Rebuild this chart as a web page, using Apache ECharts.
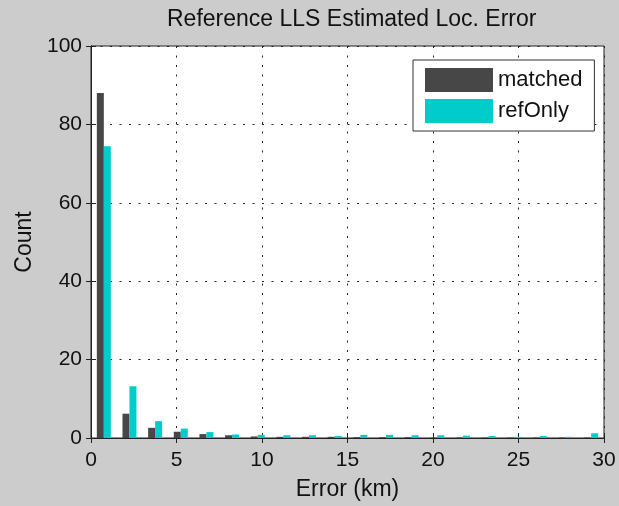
<!DOCTYPE html>
<html>
<head>
<meta charset="utf-8">
<script src="https://cdn.jsdelivr.net/npm/echarts@6/dist/echarts.min.js"></script>
<style>
html,body{margin:0;padding:0;background:#cccccc;}
#chart{width:619px;height:506px;}
</style>
</head>
<body>
<div id="chart"></div>
<script>
var binCenters = [0.75, 2.25, 3.75, 5.25, 6.75, 8.25, 9.75, 11.25, 12.75, 14.25, 15.75, 17.25, 18.75, 20.25, 21.75, 23.25, 24.75, 26.25, 27.75, 29.25];
var matched = [88.0, 6.2, 2.6, 1.6, 1.0, 0.7, 0.4, 0.3, 0.3, 0.3, 0.2, 0.2, 0.2, 0.1, 0.1, 0.1, 0.1, 0.1, 0.1, 0.1];
var refOnly = [74.4, 13.2, 4.3, 2.4, 1.5, 0.9, 0.8, 0.7, 0.7, 0.5, 0.8, 0.8, 0.7, 0.7, 0.6, 0.5, 0.3, 0.5, 0.3, 1.2];
var seriesNames = ['matched', 'refOnly'];
var seriesColors = ['#474747', '#00cccc'];
var titleText = 'Reference LLS Estimated Loc. Error';
var xName = 'Error (km)';
var yName = 'Count';

function pairs(vals) {
  return binCenters.map(function (c, i) { return [c, vals[i]]; });
}

var FONT = '"Liberation Sans", Arial, Helvetica, sans-serif';
var chart = echarts.init(document.getElementById('chart'), null, {renderer: 'canvas'});
var dotted = {color: '#222', width: 1, type: [2, 7.5]};
chart.setOption({
  backgroundColor: '#cccccc',
  animation: false,
  title: {
    text: titleText, left: 167, top: 8, padding: 0,
    textStyle: {fontFamily: FONT, fontSize: 23, fontWeight: 'normal', color: '#111'}
  },
  legend: {
    orient: 'vertical', left: 413, top: 60,
    padding: [8, 12, 8, 12], itemGap: 7,
    itemWidth: 68, itemHeight: 24, icon: 'rect',
    backgroundColor: '#fff', borderColor: '#333', borderWidth: 1,
    textStyle: {fontFamily: FONT, fontSize: 22, color: '#111'},
    data: seriesNames
  },
  grid: {
    left: 91, right: 15, top: 46, bottom: 65,
    show: true, backgroundColor: '#fff', borderColor: '#222', borderWidth: 1
  },
  xAxis: [{
    type: 'value', min: 0, max: 30, interval: 5, position: 'bottom',
    name: xName, nameLocation: 'middle', nameGap: 40,
    nameTextStyle: {fontFamily: FONT, fontSize: 23, color: '#111'},
    axisLine: {show: true, onZero: false, lineStyle: {color: '#222', width: 1}},
    axisTick: {show: true, inside: true, length: 5, lineStyle: {color: '#222'}},
    axisLabel: {fontFamily: FONT, fontSize: 21, color: '#111', margin: 12},
    splitLine: {show: true, lineStyle: dotted}
  }, {
    type: 'value', min: 0, max: 30, interval: 5, position: 'top',
    axisLine: {show: true, lineStyle: {color: '#222', width: 1}},
    axisTick: {show: true, inside: true, length: 5, lineStyle: {color: '#222'}},
    axisLabel: {show: false}, splitLine: {show: false}
  }],
  yAxis: [{
    type: 'value', min: 0, max: 100, interval: 20, position: 'left',
    name: yName, nameLocation: 'middle', nameGap: 53,
    nameTextStyle: {fontFamily: FONT, fontSize: 23, color: '#111'},
    axisLine: {show: true, lineStyle: {color: '#222', width: 1}},
    axisTick: {show: true, inside: true, length: 5, lineStyle: {color: '#222'}},
    axisLabel: {fontFamily: FONT, fontSize: 21, color: '#111', margin: 9},
    splitLine: {show: true, lineStyle: dotted}
  }, {
    type: 'value', min: 0, max: 100, interval: 20, position: 'right',
    axisLine: {show: true, lineStyle: {color: '#222', width: 1}},
    axisTick: {show: true, inside: true, length: 5, lineStyle: {color: '#222'}},
    axisLabel: {show: false}, splitLine: {show: false}
  }],
  series: [{
    name: seriesNames[0], type: 'bar', xAxisIndex: 0, yAxisIndex: 0,
    barWidth: 7, barGap: '0%',
    itemStyle: {color: seriesColors[0]},
    data: pairs(matched)
  }, {
    name: seriesNames[1], type: 'bar', xAxisIndex: 0, yAxisIndex: 0,
    barWidth: 7, barGap: '0%',
    itemStyle: {color: seriesColors[1]},
    data: pairs(refOnly)
  }]
});
</script>
</body>
</html>
